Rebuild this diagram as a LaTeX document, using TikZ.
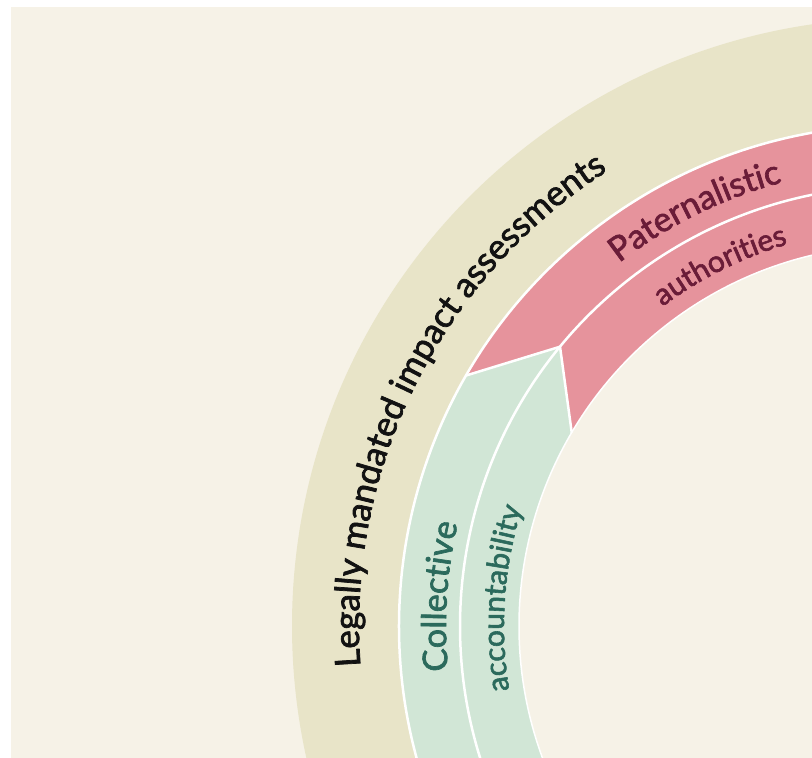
\documentclass[tikz,border=0pt]{standalone}
\usepackage{fontspec}
\setmainfont{Lato}
\newfontfamily\ringfont{Lato}[FakeBold=2]
\usepackage{xcolor}
\usetikzlibrary{decorations.text}
\definecolor{bgcream}{HTML}{F6F2E7}
\definecolor{ringkhaki}{HTML}{E8E4C8}
\definecolor{ringpink}{HTML}{E6939C}
\definecolor{ringgreen}{HTML}{D1E6D6}
\definecolor{txtgreen}{HTML}{2B6A5C}
\definecolor{txtred}{HTML}{6A1C38}
\definecolor{txtdark}{HTML}{121212}
\tikzset{
 sepline/.style={draw=white,line width=2.5pt},
 arclabel/.style={decorate,decoration={text along path,text align=center,
   text format delimiters={|}{|},text={#1}}}
}
\begin{document}
\begin{tikzpicture}[x=1pt,y=1pt]
 \useasboundingbox (0,0) rectangle (812,758);
 \fill[white] (0,0) rectangle (812,758);
 \fill[bgcream] (11,0) rectangle (812,751);
 \clip (11,0) rectangle (812,751);
 \begin{scope}[shift={(900,132)}]
  \coordinate (c) at (0,0);
  \coordinate (outertip) at (150:501);
  \coordinate (midtip) at (140.6:440);
  \coordinate (innertip) at (149.5:381);
  % rings
  \fill[ringkhaki,even odd rule] (c) circle[radius=608] (c) circle[radius=501];
  \fill[ringpink] (40:501) arc[start angle=40,end angle=150,radius=501]
    -- (midtip) -- (innertip) arc[start angle=149.5,end angle=40,radius=381] -- cycle;
  \fill[ringgreen] (outertip) arc[start angle=150,end angle=265,radius=501]
    -- (265:381) arc[start angle=265,end angle=149.5,radius=381] -- (midtip) -- cycle;
  \draw[sepline] (40:501) arc[start angle=40,end angle=265,radius=501];
  \draw[sepline] (40:440) arc[start angle=40,end angle=265,radius=440];
  \draw[sepline,line width=1.5pt] (40:381) arc[start angle=40,end angle=265,radius=381];
  \draw[sepline,line join=miter] (outertip) -- (midtip) -- (innertip);
  % labels
  \path[arclabel={|\ringfont\fontsize{35}{42}\selectfont\color{txtdark}|Legally mandated impact assessments}]
    (193.5:541) arc[start angle=193.5,end angle=113.5,radius=541];
  \path[arclabel={|\ringfont\fontsize{34}{40}\selectfont\color{txtgreen}|Collective}]
    (206.3:454) arc[start angle=206.3,end angle=146.3,radius=454];
  \path[arclabel={|\ringfont\fontsize{30}{36}\selectfont\color{txtgreen}|accountability}]
    (206:396) arc[start angle=206,end angle=146,radius=396];
  \path[arclabel={|\ringfont\fontsize{34}{40}\selectfont\color{txtred}|Paternalistic}]
    (146.3:459) arc[start angle=146.3,end angle=86.3,radius=459];
  \path[arclabel={|\ringfont\fontsize{30}{36}\selectfont\color{txtred}|authorities}]
    (146.5:398) arc[start angle=146.5,end angle=86.5,radius=398];
 \end{scope}
\end{tikzpicture}
\end{document}
